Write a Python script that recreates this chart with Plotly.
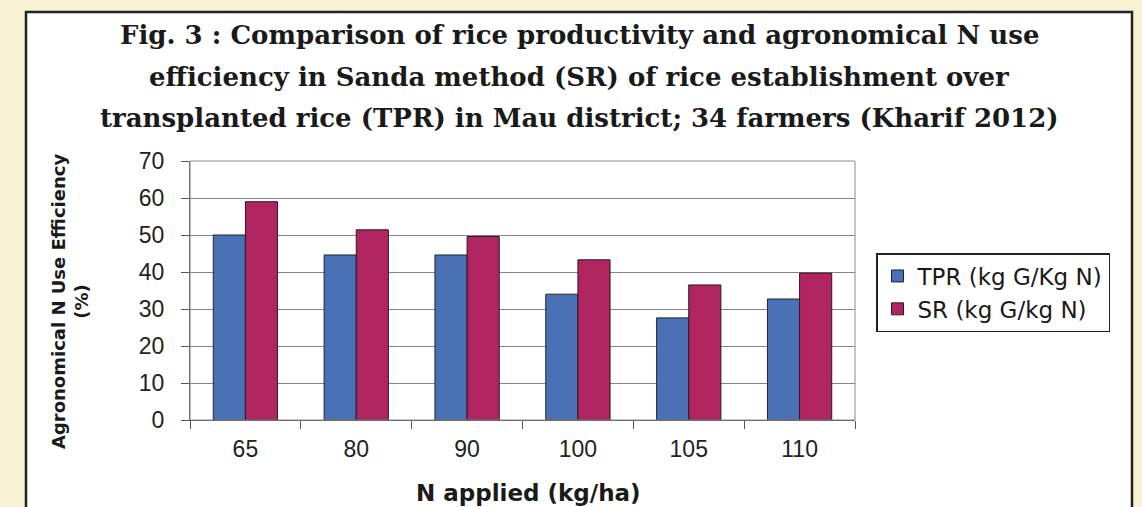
import plotly.graph_objects as go

categories = ["65", "80", "90", "100", "105", "110"]
tpr_values = [50, 44.6, 44.6, 34, 27.6, 32.7]
sr_values = [59, 51.4, 49.6, 43.3, 36.5, 39.7]
series_names = ["TPR (kg G/Kg N)", "SR (kg G/kg N)"]
y_ticks = [0, 10, 20, 30, 40, 50, 60, 70]
title_lines = [
    "Fig. 3 : Comparison of rice productivity and agronomical N use",
    "efficiency in Sanda method (SR) of rice establishment over",
    "transplanted rice (TPR) in Mau district; 34 farmers (Kharif 2012)",
]

W, H = 1142, 507
L, R, T, B = 190, 287, 161, 87
pw, ph = W - L - R, H - T - B

def px_x(x):
    return (x - L) / pw

def px_y(y):
    return (H - B - y) / ph

fig = go.Figure()
fig.add_trace(go.Bar(x=categories, y=tpr_values, name=series_names[0],
                     marker=dict(color="#4a70b6", line=dict(color="#1e2233", width=1))))
fig.add_trace(go.Bar(x=categories, y=sr_values, name=series_names[1],
                     marker=dict(color="#b0245f", line=dict(color="#2a1a22", width=1))))

annotations = []
for i, (line, yc) in enumerate(zip(title_lines, [35, 77, 118])):
    annotations.append(dict(text=line, xref="paper", yref="paper", x=px_x(579), y=px_y(yc),
                            xanchor="center", yanchor="middle", showarrow=False,
                            font=dict(family="DejaVu Serif", size=26, color="#1a1a1a", weight="bold")))
annotations.append(dict(text="Agronomical N Use Efficiency<br>(%)", xref="paper", yref="paper",
                        x=px_x(70), y=px_y(302), xanchor="center", yanchor="middle",
                        textangle=-90, showarrow=False,
                        font=dict(family="DejaVu Sans", size=18, color="#1a1a1a", weight="bold")))
annotations.append(dict(text="N applied (kg/ha)", xref="paper", yref="paper",
                        x=px_x(528), y=px_y(493), xanchor="center", yanchor="middle",
                        showarrow=False,
                        font=dict(family="DejaVu Sans", size=23, color="#1a1a1a", weight="bold")))

shapes = [
    dict(type="rect", xref="paper", yref="paper", layer="below",
         x0=px_x(26), x1=px_x(1132), y0=px_y(540), y1=px_y(12),
         fillcolor="white", line=dict(color="#222222", width=2.5)),
    dict(type="rect", xref="paper", yref="paper", layer="above",
         x0=0, x1=1, y0=0, y1=1, line=dict(color="#8a8a8a", width=1)),
]

fig.update_layout(
    width=W, height=H,
    margin=dict(l=L, r=R, t=T, b=B),
    paper_bgcolor="#f6f2d2",
    plot_bgcolor="#c0c0c0",
    barmode="group", bargap=0.42, bargroupgap=0,
    showlegend=True,
    legend=dict(x=px_x(876), y=px_y(253), xanchor="left", yanchor="top",
                bgcolor="white", bordercolor="#222222", borderwidth=1.5,
                font=dict(family="DejaVu Sans", size=23, color="#1a1a1a"),
                tracegroupgap=0),
    annotations=annotations,
    shapes=shapes,
    xaxis=dict(type="category", tickson="boundaries", ticks="outside", ticklen=8,
               tickcolor="#555555", showline=True, linecolor="#555555", linewidth=1,
               showgrid=False, ticklabelstandoff=8,
               tickfont=dict(family="Liberation Sans", size=23, color="#222222")),
    yaxis=dict(range=[0, 70], tickvals=y_ticks, ticks="outside", ticklen=8,
               tickcolor="#555555", showline=True, linecolor="#555555", linewidth=1,
               showgrid=True, gridcolor="#858585", gridwidth=1, zeroline=False,
               ticklabelstandoff=12,
               tickfont=dict(family="Liberation Sans", size=23, color="#222222")),
)

fig.write_html("out.html",
               config={"displayModeBar": False},
               post_script="document.body.style.margin='0';document.body.style.padding='0';document.body.style.overflow='hidden';")
